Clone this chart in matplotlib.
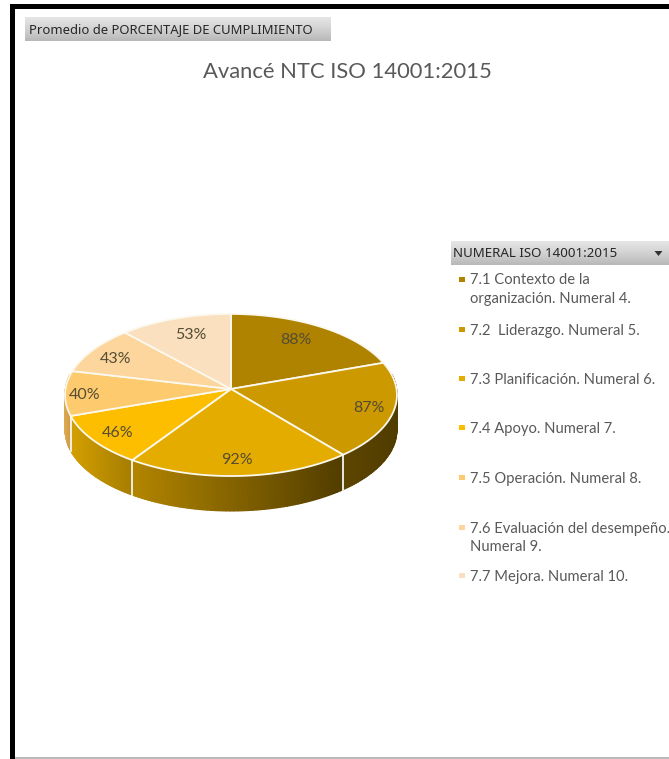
import numpy as np
import matplotlib
matplotlib.use("Agg")
import matplotlib.pyplot as plt
from matplotlib.colors import to_rgb, LinearSegmentedColormap

# data
values = [88, 87, 92, 46, 40, 43, 53]
legend_names = ["7.1 Contexto de la\norganización. Numeral 4.",
                "7.2  Liderazgo. Numeral 5.",
                "7.3 Planificación. Numeral 6.",
                "7.4 Apoyo. Numeral 7.",
                "7.5 Operación. Numeral 8.",
                "7.6 Evaluación del desempeño.\nNumeral 9.",
                "7.7 Mejora. Numeral 10."]
colors = ["#AF8300", "#CC9900", "#E5AC00", "#FDBE00", "#FDCA6E", "#FCD69C", "#FAE0BF"]
# wall shading of each slice, (left, right)
wall_colors = [("#AF8300", "#AF8300"), ("#5E4600", "#503C00"), ("#B38600", "#523D00"),
               ("#D4A000", "#A67D00"), ("#DCA850", "#D09A45"), ("#FCD69C", "#FCD69C"),
               ("#FAE0BF", "#FAE0BF")]
label_pos = [(296, 340), (369, 408), (237, 460), (118, 433), (85, 395), (116, 359), (191, 335)]
legend_y = [279, 329, 378, 427, 477, 527, 575]

cx, cy = 231, 389
sx, sy, k = 165.5, 80.6, 0.074
depth = 35


def project(theta, r=1.0):
    # clockwise from the top of the pie, with a bit of perspective
    x = r * np.sin(theta)
    y = r * np.cos(theta)
    w = 1 + k * y
    return cx + sx * x / w, cy - sy * y / w


fig = plt.figure(figsize=(6.69, 7.59), dpi=100)
ax = fig.add_axes([0, 0, 1, 1])
ax.set_xlim(0, 669)
ax.set_ylim(759, 0)
ax.axis("off")

# frame
ax.fill([10, 669, 669, 10], [4, 4, 9, 9], color="black", lw=0)
ax.fill([10, 15, 15, 10], [4, 4, 759, 759], color="black", lw=0)
ax.fill([15, 669, 669, 15], [757, 757, 759, 759], color="#BBBBBB", lw=0)

# grey header boxes
grey = LinearSegmentedColormap.from_list("grey", ["#E6E6E6", "#D2D2D2", "#B8B8B8"])
grad = np.linspace(0, 1, 50).reshape(-1, 1)
for x0, x1, y0, y1 in [(25, 331, 17, 41), (451, 669, 241, 265)]:
    ax.imshow(grad, extent=(x0, x1, y1, y0), cmap=grey, aspect="auto",
              interpolation="bilinear", origin="upper")
ax.set_xlim(0, 669)
ax.set_ylim(759, 0)

ax.text(29, 29.5, "Promedio de PORCENTAJE DE CUMPLIMIENTO", fontsize=9.4, family="Noto Sans",
        color="#262626", va="center", ha="left")
ax.text(453, 253.5, "NUMERAL ISO 14001:2015", fontsize=9.6, family="Noto Sans",
        color="#262626", va="center", ha="left")
ax.fill([654.5, 662.5, 658.5], [251, 251, 256], color="#333333", lw=0)

ax.text(347, 72, "Avancé NTC ISO 14001:2015", fontsize=15.8, family="Lato", color="#595959",
        ha="center", va="center")

# slices
edges = np.concatenate([[0], np.cumsum(values)]) / np.sum(values) * 2 * np.pi
low, high = np.radians(80), np.radians(280)

# walls first, the top covers what is behind
for i in range(len(values)):
    a0, a1 = max(edges[i], low), min(edges[i + 1], high)
    if a1 <= a0:
        continue
    t = np.linspace(a0, a1, 60)
    px, py = project(t)
    # t goes right to left along the front of the pie
    f = ((px.max() - px) / max(px.max() - px.min(), 1))[:, None]
    rgb = np.array(to_rgb(wall_colors[i][1])) * (1 - f) + np.array(to_rgb(wall_colors[i][0])) * f
    X = np.vstack([px, px])
    Y = np.vstack([py - 1, py + depth])
    C = np.stack([rgb, rgb])
    ax.pcolormesh(X, Y, C, shading="gouraud", zorder=2)
ax.set_xlim(0, 669)
ax.set_ylim(759, 0)

# white lines on the wall between slices
for e in edges:
    if low < e < high:
        px, py = project(e)
        ax.plot([px, px], [py, py + depth], color="#F5F5F0", lw=1.3, zorder=3)

for i in range(len(values)):
    t = np.linspace(edges[i], edges[i + 1], 120)
    px, py = project(t)
    ox, oy = project(0.0, 0.0)
    ax.fill(np.r_[ox, px], np.r_[oy, py], facecolor=colors[i], edgecolor="#FBF8EE", lw=1.3,
            joinstyle="round", zorder=4)

for v, (x, y) in zip(values, label_pos):
    ax.text(x, y, f"{v}%", fontsize=11.5, family="Lato", color="#544C35", ha="center",
            va="center", zorder=5)

# legend
for name, c, y in zip(legend_names, colors, legend_y):
    ax.fill([459, 465, 465, 459], [y - 2.5, y - 2.5, y + 2.5, y + 2.5], color=c, lw=0)
    ax.text(470, y - 5.5, name, fontsize=10.6, family="Lato", color="#595959", ha="left",
            va="top", linespacing=1.45)

fig.savefig("out.png", dpi=100)
